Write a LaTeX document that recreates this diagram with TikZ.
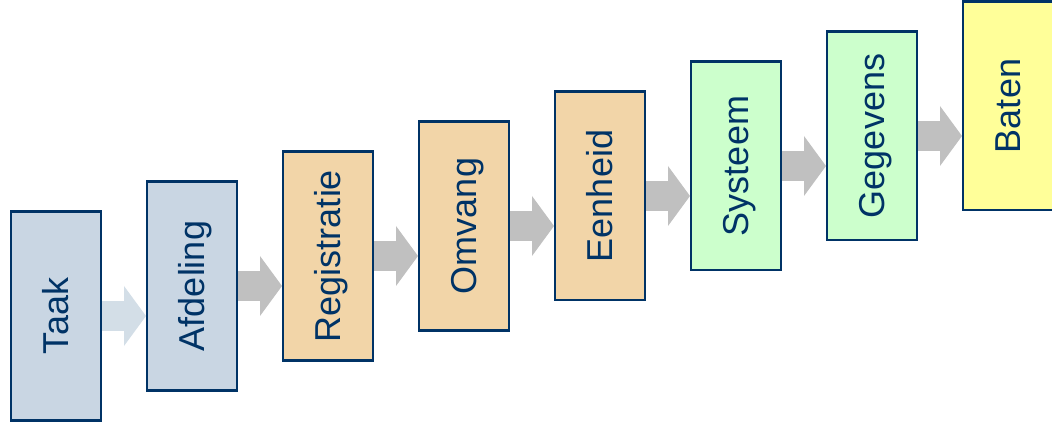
\documentclass[tikz,border=0pt]{standalone}
\usepackage{fontspec}
\setmainfont{Liberation Sans}
\usetikzlibrary{arrows.meta,positioning}
\definecolor{navy}{HTML}{003366}
\definecolor{bluegray}{HTML}{C9D6E3}
\definecolor{tan}{HTML}{F2D5A8}
\definecolor{mint}{HTML}{CCFFCC}
\definecolor{lemon}{HTML}{FFFF99}
\definecolor{arrowblue}{HTML}{D3DEE7}
\definecolor{arrowgray}{HTML}{C0C0C0}
\newcommand{\vlabel}[1]{\rotatebox{90}{\rule[-1pt]{0pt}{27pt}\smash{#1}}}

\begin{document}
\begin{tikzpicture}[x=1pt,y=1pt]
\tikzstyle{box} = [rectangle, draw=navy, line width=2.2pt, text=navy,
minimum width=89.8pt, minimum height=208.8pt, inner sep=0pt,
font=\fontsize{36}{40}\selectfont]
\tikzstyle{box_blue} = [box, fill=bluegray]
\tikzstyle{box_tan} = [box, fill=tan]
\tikzstyle{box_green} = [box, fill=mint]
\tikzstyle{box_yellow} = [box, fill=lemon]
\tikzstyle{flow} = [draw=arrowgray, line width=30pt,
-{Triangle[length=22pt,width=60pt,line width=0pt]}]
\useasboundingbox (0,0) rectangle (1052,434);
% step 1
\node [box_blue] (taak) at (56,118) {\vlabel{Taak}};
% step 2
\node [box_blue, right=44pt of taak, yshift=30pt] (afdeling) {\vlabel{Afdeling}};
% step 3
\node [box_tan, right=44pt of afdeling, yshift=30pt] (registratie) {\vlabel{Registratie}};
% step 4
\node [box_tan, right=44pt of registratie, yshift=30pt] (omvang) {\vlabel{Omvang}};
% step 5
\node [box_tan, right=44pt of omvang, yshift=30pt] (eenheid) {\vlabel{Eenheid}};
% step 6
\node [box_green, right=44pt of eenheid, yshift=30pt] (systeem) {\vlabel{Systeem}};
% step 7
\node [box_green, right=44pt of systeem, yshift=30pt] (gegevens) {\vlabel{Gegevens}};
% step 8
\node [box_yellow, right=44pt of gegevens, yshift=30pt] (baten) {\vlabel{Baten}};

\path [flow, draw=arrowblue] (taak.east) -- (afdeling.west |- taak.east);
\path [flow] (afdeling.east) -- (registratie.west |- afdeling.east);
\path [flow] (registratie.east) -- (omvang.west |- registratie.east);
\path [flow] (omvang.east) -- (eenheid.west |- omvang.east);
\path [flow] (eenheid.east) -- (systeem.west |- eenheid.east);
\path [flow] (systeem.east) -- (gegevens.west |- systeem.east);
\path [flow] (gegevens.east) -- (baten.west |- gegevens.east);
\end{tikzpicture}
\end{document}
